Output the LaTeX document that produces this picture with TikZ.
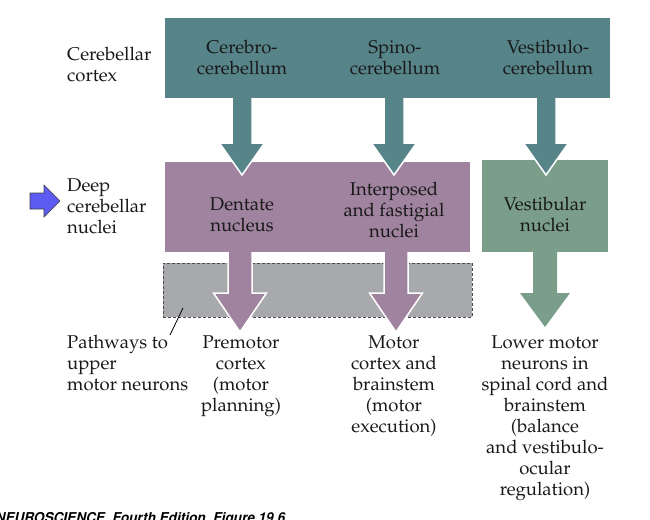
\documentclass[tikz,border=0pt]{standalone}
\usepackage[T1]{fontenc}
\renewcommand{\rmdefault}{ppl}
\definecolor{tealc}{HTML}{568489}
\definecolor{purpc}{HTML}{A0839F}
\definecolor{greenc}{HTML}{7A9E8A}
\definecolor{grayc}{HTML}{A8A9AC}
\definecolor{bluec}{HTML}{5C5CF2}
\newcommand{\darr}[7]{%
  \path[#7] ({#1-#5},#2) -- ({#1-#5},#3) -- ({#1-#6},#3) -- (#1,#4) -- ({#1+#6},#3) -- ({#1+#5},#3) -- ({#1+#5},#2) -- cycle;}
\begin{document}
\begin{tikzpicture}[x=1pt,y=-1pt,
  lbl/.style={font=\fontsize{18.5}{21}\selectfont, align=center, inner sep=0pt, anchor=north, text=black!90},
  side/.style={lbl, align=left, anchor=north west},
  boxst/.style={draw=none, inner sep=0pt, anchor=north west},
  tealarr/.style={fill=tealc, draw=white, line width=1.5pt},
  purparr/.style={fill=purpc, draw=white, line width=1.5pt},
  greenarr/.style={fill=greenc}]
\useasboundingbox (0,0) rectangle (650,519);
\clip (0,0) rectangle (650,519);
% gray pathway box
\node[boxst, fill=grayc, draw=black!70, densely dashed, line width=0.7pt, minimum width=309pt, minimum height=54pt] (path) at (163,263) {};
% purple arrows
\darr{240}{240}{293}{332}{12}{26.5}{purparr}
\darr{396}{240}{293}{332}{12}{26.5}{purparr}
% deep nuclei boxes
\node[boxst, fill=purpc, minimum width=305pt, minimum height=90pt] (deep) at (165,162) {};
\node[boxst, fill=greenc, minimum width=126pt, minimum height=92pt] (vest) at (482,160) {};
% green arrow
\darr{545}{245}{293}{327}{12}{25}{greenarr}
% teal arrows
\darr{242}{90}{143}{175}{10}{22.5}{tealarr}
\darr{394}{90}{143}{175}{10}{22.5}{tealarr}
\darr{546}{90}{143}{175}{10}{22.5}{tealarr}
% cortex box
\node[boxst, fill=tealc, minimum width=445pt, minimum height=80pt] (cortex) at (165,18) {};
% blue pointer arrow
\path[fill=bluec, draw=black!75, line width=0.6pt] (30,193) -- (44,193) -- (44,185) -- (60,201) -- (44,217) -- (44,209) -- (30,209) -- cycle;
% labels
\node[side] (lcortex) at (67,47) {Cerebellar\\cortex};
\node[side] (ldeep) at (67,178) {Deep\\cerebellar\\nuclei};
\node[side] (lpath) at (67,335) {Pathways to\\upper\\motor neurons};
\node[lbl] (t1) at (242,40) {Cerebro-\\cerebellum};
\node[lbl] (t2) at (395,40) {Spino-\\cerebellum};
\node[lbl] (t3) at (548,40) {Vestibulo-\\cerebellum};
\node[lbl] (n1) at (242,197) {Dentate\\nucleus};
\node[lbl] (n2) at (394,182) {Interposed\\and fastigial\\nuclei};
\node[lbl] (n3) at (545,197) {Vestibular\\nuclei};
\node[lbl] (o1) at (241,335) {Premotor\\cortex\\(motor\\planning)};
\node[lbl] (o2) at (394,335) {Motor\\cortex and\\brainstem\\(motor\\execution)};
\node[lbl] (o3) at (545,335) {Lower motor\\neurons in\\spinal cord and\\brainstem\\(balance\\and vestibulo-\\ocular\\regulation)};
% leader line
\coordinate (lp1) at (183,308);
\coordinate (lp2) at (170,335);
\draw[line width=0.8pt] (lp1) -- (lp2);
% caption
\node[anchor=base west, inner sep=0pt, font=\fontsize{13.6}{16}\fontfamily{phv}\bfseries\slshape\selectfont] (cap) at (-5,522) {NEUROSCIENCE, Fourth Edition, Figure 19.6};
\end{tikzpicture}
\end{document}
